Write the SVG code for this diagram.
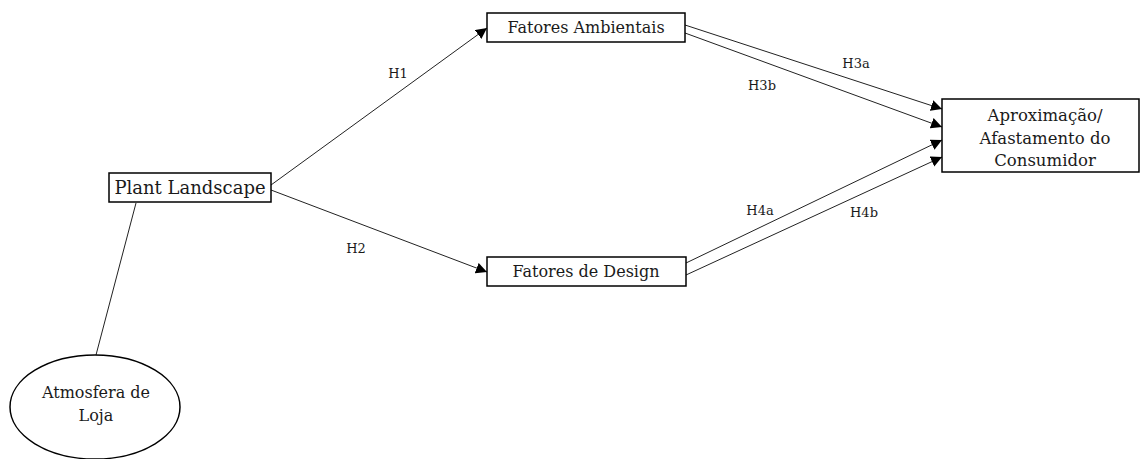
<svg xmlns="http://www.w3.org/2000/svg" width="1143" height="459" viewBox="0 0 1143 459">
<style>
.box{fill:#fff;stroke:#000;stroke-width:1.5}
.t{font-family:"DejaVu Serif","Liberation Serif",serif;fill:#1a1a1a;text-anchor:middle}
.n{font-size:16px}
.lbl{font-size:13px}
.c{stroke:#222;stroke-width:1;fill:none}
.a{marker-end:url(#ah)}
</style>
<defs>
<marker id="ah" viewBox="0 0 10 10" refX="10" refY="5" markerWidth="11" markerHeight="11" markerUnits="userSpaceOnUse" orient="auto">
<path d="M0,0 L10,5 L0,10 z" fill="#000"/>
</marker>
</defs>
<rect width="1143" height="459" fill="#fff"/>
<g id="connectors">
<line class="c" x1="136" y1="203" x2="96" y2="355"/>
<line class="c a" x1="271" y1="185" x2="487" y2="28"/>
<line class="c a" x1="271" y1="190" x2="487" y2="272"/>
<line class="c a" x1="685" y1="25" x2="942" y2="109"/>
<line class="c a" x1="685" y1="33" x2="942" y2="127"/>
<line class="c a" x1="686" y1="263" x2="942" y2="140"/>
<line class="c a" x1="686" y1="275" x2="942" y2="157"/>
<text class="t lbl" x="398" y="78">H1</text>
<text class="t lbl" x="356" y="253">H2</text>
<text class="t lbl" x="856" y="68">H3a</text>
<text class="t lbl" x="762" y="90">H3b</text>
<text class="t lbl" x="760" y="215">H4a</text>
<text class="t lbl" x="864" y="217">H4b</text>
</g>
<g id="plant">
<rect class="box" x="109" y="173" width="162" height="29"/>
<text class="t" style="font-size:18px" x="190" y="194">Plant Landscape</text>
</g>
<g id="ambientais">
<rect class="box" x="487" y="13" width="198" height="29"/>
<text class="t n" x="586" y="33">Fatores Ambientais</text>
</g>
<g id="design">
<rect class="box" x="487" y="257" width="199" height="29"/>
<text class="t n" x="586" y="277">Fatores de Design</text>
</g>
<g id="consumidor">
<rect class="box" x="942" y="99" width="197" height="73"/>
<text class="t" style="font-size:16.5px" x="1045" y="121">Aproximação/</text>
<text class="t" style="font-size:16.5px" x="1045" y="144">Afastamento do</text>
<text class="t" style="font-size:16.5px" x="1045" y="166">Consumidor</text>
</g>
<g id="atmosfera">
<ellipse class="box" cx="95" cy="407" rx="85" ry="52"/>
<text class="t n" x="96" y="398">Atmosfera de</text>
<text class="t n" x="96" y="421">Loja</text>
</g>
</svg>
